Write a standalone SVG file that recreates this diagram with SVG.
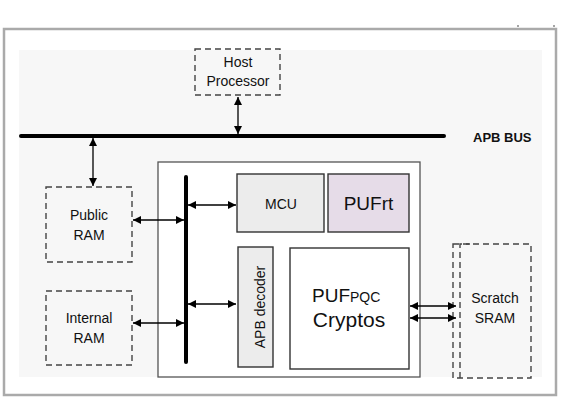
<svg xmlns="http://www.w3.org/2000/svg" width="572" height="402" viewBox="0 0 572 402">
<defs>
<marker id="ah" viewBox="0 0 10 10" refX="10" refY="5" markerWidth="8" markerHeight="8" markerUnits="userSpaceOnUse" orient="auto-start-reverse">
<path d="M0,0 L10,5 L0,10 z" fill="#000"/>
</marker>
<style>
.lbl{font-family:"Liberation Sans",Arial,sans-serif;font-size:14px;fill:#111;text-anchor:middle}
.dash{fill:none;stroke:#444;stroke-width:1.4;stroke-dasharray:6,4}
.box{stroke:#333;stroke-width:1.4}
.arr{stroke:#000;stroke-width:1.3;fill:none;marker-start:url(#ah);marker-end:url(#ah)}
.bus{stroke:#000;stroke-width:4;stroke-linecap:round}
</style>
</defs>
<rect x="0" y="0" width="572" height="402" fill="#fff"/>
<rect x="4" y="29" width="552" height="366" fill="#fff" stroke="#aaa" stroke-width="2.5"/>
<rect x="19" y="50" width="523" height="327" fill="#f7f7f7"/>
<circle cx="518" cy="26" r="0.8" fill="#333"/>
<circle cx="554" cy="26" r="0.8" fill="#333"/>

<g id="chip">
<rect x="158" y="162" width="262" height="215" fill="#fff" stroke="#555" stroke-width="1.3"/>
</g>

<g id="apb-bus">
<line class="bus" x1="21" y1="136" x2="444" y2="136"/>
<text x="473" y="142" font-family="'Liberation Sans',Arial,sans-serif" font-size="13" font-weight="bold" fill="#111">APB BUS</text>
</g>

<g id="internal-bus">
<line class="bus" x1="186" y1="177" x2="186" y2="362"/>
</g>

<g id="host-processor">
<rect class="dash" x="195" y="49" width="85" height="46"/>
<text class="lbl" x="238" y="67">Host</text>
<text class="lbl" x="238" y="86">Processor</text>
</g>

<g id="public-ram">
<rect class="dash" x="46" y="187" width="86" height="75"/>
<text class="lbl" x="89" y="220">Public</text>
<text class="lbl" x="89" y="240">RAM</text>
</g>

<g id="internal-ram">
<rect class="dash" x="46" y="291" width="86" height="74"/>
<text class="lbl" x="89" y="323">Internal</text>
<text class="lbl" x="89" y="343">RAM</text>
</g>

<g id="mcu">
<rect class="box" x="237" y="174" width="87" height="58" fill="#ececec"/>
<text x="281" y="209" font-family="'Liberation Sans',Arial,sans-serif" font-size="14" fill="#111" text-anchor="middle">MCU</text>
</g>

<g id="pufrt">
<rect class="box" x="328" y="174" width="81" height="58" fill="#e6dce8"/>
<text x="368.5" y="210" font-family="'Liberation Sans',Arial,sans-serif" font-size="19" fill="#111" text-anchor="middle">PUFrt</text>
</g>

<g id="apb-decoder">
<rect class="box" x="238" y="247" width="35" height="120" fill="#ececec"/>
<text x="0" y="0" transform="translate(260,307) rotate(-90)" font-family="'Liberation Sans',Arial,sans-serif" font-size="14" fill="#111" text-anchor="middle" dominant-baseline="central">APB decoder</text>
</g>

<g id="pufpqc-cryptos">
<rect class="box" x="290" y="248" width="119" height="121" fill="#fff"/>
<text x="312" y="302" font-family="'Liberation Sans',Arial,sans-serif" font-size="19" fill="#111">PUF<tspan font-size="14">PQC</tspan></text>
<text x="349" y="327" font-family="'Liberation Sans',Arial,sans-serif" font-size="21" fill="#111" text-anchor="middle">Cryptos</text>
</g>

<g id="scratch-sram">
<rect class="dash" x="453" y="244" width="78" height="134"/>
<path class="dash" d="M460,378 L460,244 L470,244"/>
<text class="lbl" x="495" y="303">Scratch</text>
<text class="lbl" x="495" y="323">SRAM</text>
</g>

<g id="connectors">
<line class="arr" x1="238" y1="97" x2="238" y2="134"/>
<line class="arr" x1="93" y1="138" x2="93" y2="186"/>
<line class="arr" x1="133" y1="220" x2="184" y2="220"/>
<line class="arr" x1="133" y1="323" x2="184" y2="323"/>
<line class="arr" x1="188" y1="205" x2="236" y2="205"/>
<line class="arr" x1="188" y1="304" x2="236" y2="304"/>
<line class="arr" x1="410" y1="306" x2="456" y2="306"/>
<line class="arr" x1="410" y1="318" x2="456" y2="318"/>
</g>
</svg>
